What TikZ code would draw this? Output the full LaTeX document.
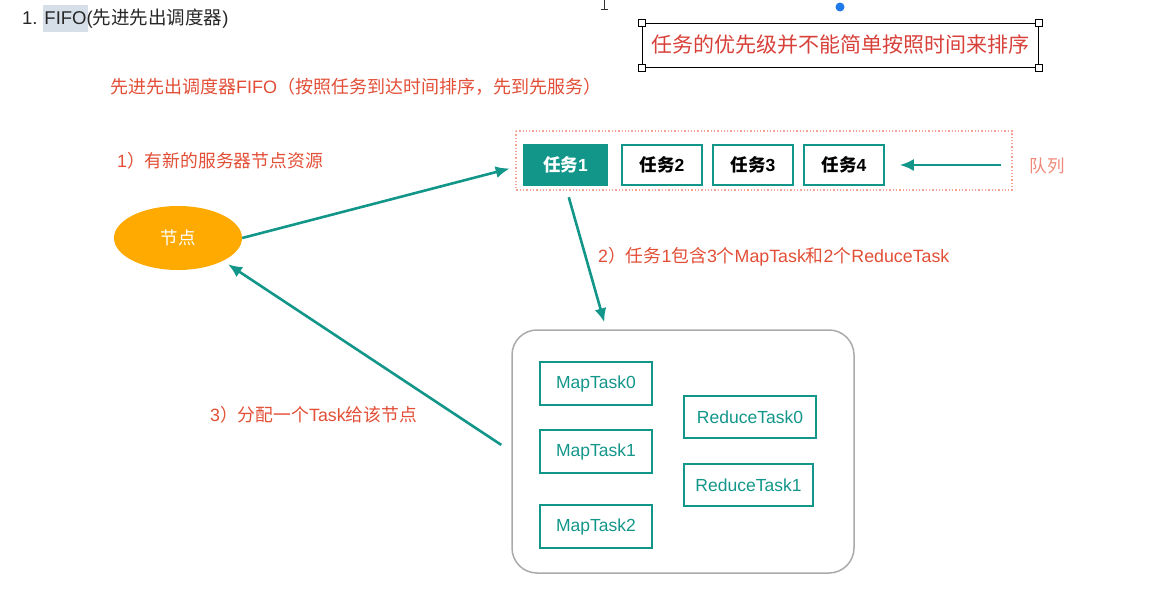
\documentclass[tikz,border=0pt]{standalone}
\usepackage{fontspec}
\setmainfont{Noto Sans CJK SC}
\newfontfamily\latinfont{Liberation Sans}
\newcommand{\lat}[1]{{\latinfont #1}}
\usetikzlibrary{arrows.meta, shapes.geometric}
\definecolor{teal_c}{HTML}{13968A}
\definecolor{red_c}{HTML}{E24E36}
\definecolor{note_c}{HTML}{D8403A}
\definecolor{salmon_c}{HTML}{F4A394}
\definecolor{queue_c}{HTML}{F0897A}
\definecolor{orange_c}{HTML}{FFAA00}
\definecolor{hl_c}{HTML}{D6DFE8}
\definecolor{dot_c}{HTML}{1F7AE8}
\definecolor{frame_c}{HTML}{AAAAAA}

\begin{document}
\begin{tikzpicture}[
		x=1pt, y=-1pt,
		every node/.style={inner sep=0pt, font=\fontsize{17.5}{20}\selectfont},
		red_text/.style={text=red_c, anchor=west, font=\fontsize{17.8}{20}\selectfont},
		job/.style={rectangle, draw=teal_c, line width=1.5pt, minimum width=80pt, minimum height=40pt},
		sub_task/.style={rectangle, draw=teal_c, line width=1.2pt, text=teal_c, minimum height=43pt, font=\latinfont\fontsize{17.5}{20}\selectfont},
		flow/.style={draw=teal_c, line width=2.6pt, -{Latex[length=14pt, width=12pt]}},
		handle/.style={rectangle, draw=black, fill=white, line width=0.8pt, minimum size=7pt}
	]
  \useasboundingbox (0, 0) rectangle (1176, 605);

  \fill[hl_c] (43, 5) rectangle (88, 32);
  \node (title) [anchor=west, text=black!85, font=\fontsize{18.5}{20}\selectfont] at (22, 19) {\lat{1. FIFO(}先进先出调度器\lat{)}};
  \draw[black!80, line width=0.8pt] (604, 0) -- (604, 9) (600.5, 9) -- (607.5, 9);
  \fill[dot_c] (840, 7) circle (4.5);

  \node (note) [draw=black, line width=0.9pt, minimum width=396pt, minimum height=44pt,
    text=note_c, font=\fontsize{21}{24}\selectfont] at (840, 45) {任务的优先级并不能简单按照时间来排序};
  \node [handle] at (note.north west) {};
  \node [handle] at (note.north east) {};
  \node [handle] at (note.south west) {};
  \node [handle] at (note.south east) {};

  \node (head) [red_text, font=\fontsize{18}{20}\selectfont] at (110, 87) {先进先出调度器\lat{FIFO}（按照任务到达时间排序，先到先服务）};
  \node (step_1) [red_text] at (117, 161) {\lat{1}）有新的服务器节点资源};
  \node (step_2) [red_text] at (598, 257) {\lat{2}）任务\lat{1}包含\lat{3}个\lat{MapTask}和\lat{2}个\lat{ReduceTask}};
  \node (step_3) [red_text] at (210, 415) {\lat{3}）分配一个\lat{Task}给该节点};

  \node (server) [ellipse, fill=orange_c, minimum width=128pt, minimum height=64pt, text=white] at (178, 238) {节点};

  \draw[salmon_c, line width=1.3pt, dotted] (516, 131) rectangle (1012, 190);
  \node (t_1) [job, fill=teal_c, text=white, minimum width=83pt] at (565.5, 165) {\bfseries 任务\lat{1}};
  \node (t_2) [job] at (662, 165) {\bfseries 任务\lat{2}};
  \node (t_3) [job] at (753, 165) {\bfseries 任务\lat{3}};
  \node (t_4) [job] at (844, 165) {\bfseries 任务\lat{4}};
  \node (queue) [text=queue_c] at (1047, 166) {队列};
  \coordinate (q_tail) at (1001, 165);

  \node (pool) [rectangle, draw=frame_c, line width=1.5pt, rounded corners=25pt,
    minimum width=342pt, minimum height=243pt] at (683, 451.5) {};
  \coordinate (pool_in) at (606.5, 330);
  \node (map_0) [sub_task, minimum width=112pt] at (596, 383.5) {MapTask0};
  \node (map_1) [sub_task, minimum width=112pt] at (596, 451.5) {MapTask1};
  \node (map_2) [sub_task, minimum width=112pt] at (596, 526.5) {MapTask2};
  \node (red_0) [sub_task, minimum width=132pt, minimum height=42pt] at (750, 417) {ReduceTask0};
  \node (red_1) [sub_task, minimum width=129pt, minimum height=42pt] at (748.5, 485) {ReduceTask1};

  \draw [flow, shorten >=15pt] (q_tail) -- (t_4.east);
  \draw [flow, shorten >=14pt] (server.east) -- (t_1.west);
  \draw [flow, shorten <=12pt, shorten >=8pt] (t_1.south) -- (pool_in);
  \draw [flow, shorten <=12pt, shorten >=6pt] (pool.west) -- (server.-27);
\end{tikzpicture}
\end{document}
